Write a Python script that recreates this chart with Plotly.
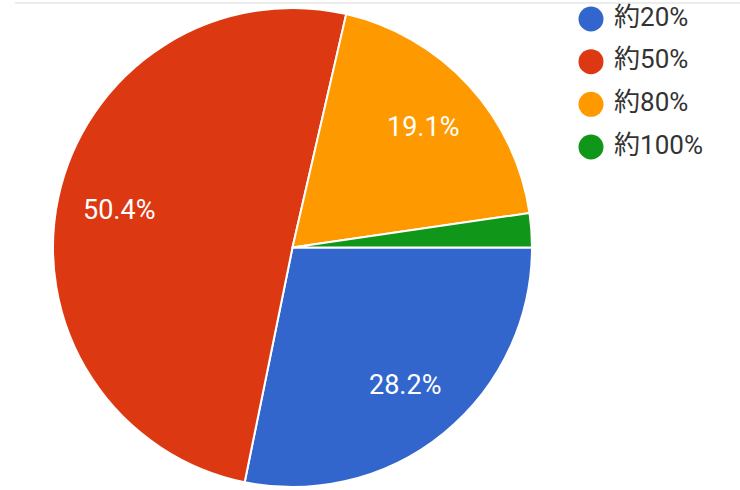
import math
import plotly.graph_objects as go

labels = ["約20%", "約50%", "約80%", "約100%"]
values = [28.2, 50.4, 19.1, 2.3]
colors = ["#3366CC", "#DC3912", "#FF9900", "#109618"]
show_text = [True, True, True, False]

W, H = 740, 490
FONT = "Roboto, 'Noto Sans CJK JP', sans-serif"

# pie placement (pixels inside the figure)
PX0, PX1 = 53, 532
PY0, PY1 = 8, 487
R = (PX1 - PX0) / 2
CX = (PX0 + PX1) / 2
CY = (PY0 + PY1) / 2
LABEL_FRAC = 0.74

fig = go.Figure()

fig.add_trace(go.Pie(
    labels=labels,
    values=values,
    sort=False,
    direction="clockwise",
    rotation=90,
    marker=dict(colors=colors, line=dict(color="white", width=2)),
    textinfo="none",
    showlegend=False,
    hoverinfo="label+percent",
    domain=dict(x=[PX0 / W, PX1 / W], y=[1 - PY1 / H, 1 - PY0 / H]),
))

# percentage labels placed Google-Charts style along each slice's mid angle
total = sum(values)
annotations = []
cum = 0.0
for lab, v, s in zip(labels, values, show_text):
    mid = (cum + v / 2) / total * 360.0  # clockwise from 3 o'clock
    cum += v
    if not s:
        continue
    th = math.radians(-mid)
    px = CX + LABEL_FRAC * R * math.cos(th)
    py = CY - LABEL_FRAC * R * math.sin(th)
    annotations.append(dict(
        x=px / W, y=1 - py / H, xref="paper", yref="paper",
        text=f"{v / total * 100:.1f}%", showarrow=False,
        font=dict(color="white", size=27, family=FONT),
        xanchor="center", yanchor="middle",
    ))

# manual legend
fig.add_trace(go.Scatter(
    x=[0] * len(labels),
    y=list(range(len(labels))),
    mode="markers+text",
    marker=dict(color=colors, size=25, symbol="circle"),
    text=[" " + l for l in labels],
    textposition="middle right",
    textfont=dict(color="#333333", size=26, family=FONT),
    xaxis="x2", yaxis="y2",
    showlegend=False,
    hoverinfo="skip",
    cliponaxis=False,
))

fig.update_layout(
    width=W, height=H,
    margin=dict(l=0, r=0, t=0, b=0),
    paper_bgcolor="white",
    plot_bgcolor="rgba(0,0,0,0)",
    font=dict(family=FONT),
    xaxis2=dict(domain=[568 / W, 1], range=[-1.15, 7.45], visible=False, fixedrange=True, anchor="y2"),
    yaxis2=dict(domain=[1 - 170 / H, 1], range=[3.539, -0.445], visible=False, fixedrange=True, anchor="x2"),
    annotations=annotations,
    shapes=[dict(type="line", xref="paper", yref="paper", x0=15 / W, x1=1, y0=1 - 3 / H, y1=1 - 3 / H,
                 line=dict(color="#e6e6e6", width=1.5), layer="below")],
)

fig.write_html("out.html", config={"displayModeBar": False},
               post_script="document.body.style.margin='0px';")
